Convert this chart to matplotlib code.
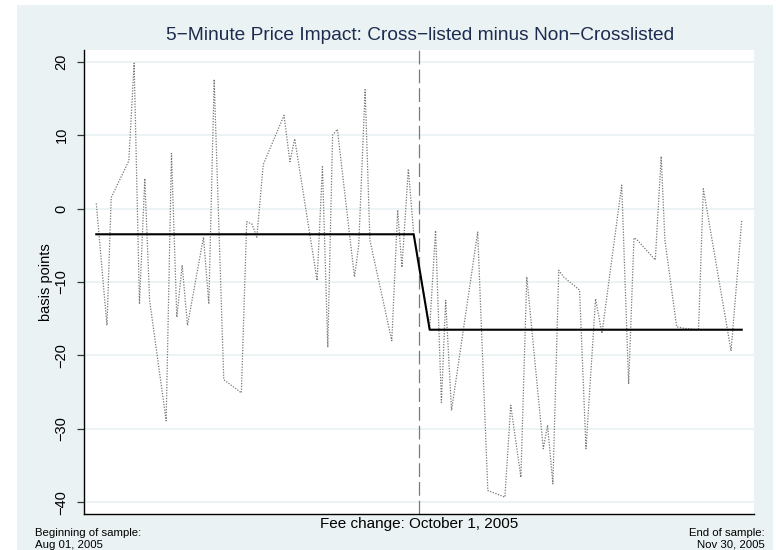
import matplotlib
matplotlib.use("Agg")
import matplotlib.pyplot as plt
from matplotlib.patches import Rectangle

plt.rcParams["font.family"] = ["Liberation Sans", "DejaVu Sans"]

# days since Aug 01, 2005 and the price-impact difference in bp
days = [
    0, 2.0, 2.8, 6.1, 7.1, 8.1, 9.1, 10.0, 13.1, 14.1, 15.1, 16.1, 17.1, 20.1,
    21.1, 22.1, 23.9, 27.2, 28.2, 29.2, 30.1, 31.3, 35.2, 36.3, 37.2, 41.4,
    42.4, 43.4, 44.3, 45.2, 48.4, 49.2, 50.4, 51.3, 55.4, 56.5, 57.3, 58.5,
    59.5,
    62.5, 63.6, 64.7, 65.5, 66.6, 71.5, 73.4, 76.6, 77.7, 79.6, 80.7, 83.8,
    84.6, 85.6, 86.7, 87.6, 90.6, 91.8, 93.6, 94.8, 98.5, 99.8, 100.8, 101.3,
    104.8, 105.9, 106.6, 108.8, 110.1, 112.9, 113.8, 119.0, 121.0,
]
impact = [
    0.7, -15.9, 1.5, 6.5, 19.8, -13.0, 4.1, -12.5, -28.9, 7.5, -14.8, -7.7,
    -15.9, -3.9, -13.0, 17.6, -23.3, -25.1, -1.8, -2.1, -3.9, 6.0, 12.7, 6.4,
    9.5, -9.8, 5.7, -18.9, 10.0, 10.8, -9.3, -5.0, 16.2, -4.3, -18.0, -0.2,
    -8.0, 5.4, -3.3,
    -16.3, -3.0, -26.4, -12.5, -27.5, -3.2, -38.4, -39.3, -26.8, -36.6, -9.3,
    -32.7, -29.5, -37.5, -8.4, -9.3, -11.1, -32.7, -12.3, -17.0, 3.2, -23.9,
    -4.0, -4.2, -7.0, 7.1, -4.3, -16.1, -16.3, -16.5, 2.7, -19.4, -1.6,
]

# period means before / after the fee change
mean_days = [0, 59.5, 62.5, 121.0]
mean_vals = [-3.5, -3.5, -16.5, -16.5]
fee_change_day = 60.5

yticks = [-40, -30, -20, -10, 0, 10, 20]
ytick_labels = ["\u221240", "\u221230", "\u221220", "\u221210", "0", "10", "20"]

title = "5\u2212Minute Price Impact: Cross\u2212listed minus Non\u2212Crosslisted"

W, H = 776, 550
fig = plt.figure(figsize=(W / 100, H / 100), dpi=100)
fig.patch.set_facecolor("white")
fig.patches.append(Rectangle((17 / W, 0), (773 - 17) / W, 1 - 5 / H,
                             transform=fig.transFigure, facecolor="#EAF2F3",
                             edgecolor="none", zorder=-5))

ax = fig.add_axes([84 / W, 1 - 514 / H, (754 - 84) / W, (514 - 50) / H])
ax.set_zorder(2)
ax.set_facecolor("white")

for y in yticks:
    ax.axhline(y, color="#EAF2F3", lw=1.3, zorder=1)

ax.plot(days, impact, color="#777777", lw=0.9, linestyle=(0, (1, 1.2)), zorder=2)
ax.plot(mean_days, mean_vals, color="black", lw=1.5, zorder=3)
ax.axvline(fee_change_day, color="#7a7a7a", lw=0.9, linestyle=(0, (11, 4)), zorder=2)

ax.set_xlim(-2.3, 123.3)
ax.set_ylim(-41.6, 21.6)
ax.set_xticks([])
ax.set_yticks(yticks)
ax.set_yticklabels(ytick_labels, rotation=90, va="center", fontsize=10.5)
ax.tick_params(axis="y", length=5, width=0.9, color="#333333", pad=6)
ax.set_ylabel("basis points", fontsize=10.5, labelpad=1)

for side in ("top", "right"):
    ax.spines[side].set_visible(False)
for side in ("left", "bottom"):
    ax.spines[side].set_linewidth(1.0)
    ax.spines[side].set_color("black")

fig.text(420 / W, 1 - 35 / H, title, ha="center", va="center",
         fontsize=13.8, color="#1c2b4f")
ax.text(fee_change_day, -42.0, "Fee change: October 1, 2005", ha="center",
        va="top", fontsize=11, clip_on=False)
fig.text(35 / W, 1 - 528 / H, "Beginning of sample:\nAug 01, 2005", ha="left",
         va="top", fontsize=8.2, linespacing=1.2)
fig.text(765 / W, 1 - 528 / H, "End of sample:\nNov 30, 2005", ha="right",
         va="top", fontsize=8.2, linespacing=1.2, multialignment="right")

fig.savefig("out.png", dpi=100)
